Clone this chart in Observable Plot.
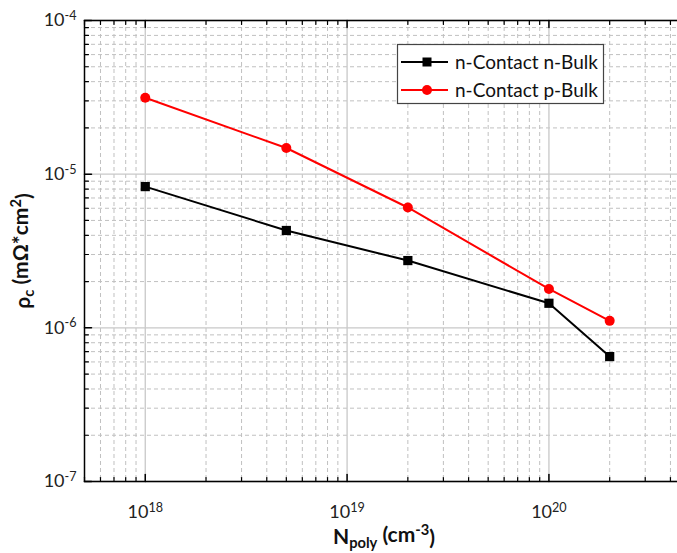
<!DOCTYPE html>
<html>
<head>
<meta charset="utf-8">
<script src="https://cdn.jsdelivr.net/npm/d3@7"></script>
<script src="https://cdn.jsdelivr.net/npm/@observablehq/plot@0.6"></script>
<style>
  html, body { margin: 0; padding: 0; background: #fff; }
  #chart svg { display: block; }
</style>
</head>
<body>
<div id="chart"></div>
<script>
// ---- data ----
const nPoly = [1e18, 5e18, 2e19, 1e20, 2e20];
const nContactNBulk = [8.3e-6, 4.3e-6, 2.74e-6, 1.445e-6, 6.5e-7];
const nContactPBulk = [3.14e-5, 1.48e-5, 6.07e-6, 1.79e-6, 1.11e-6];
const seriesNames = ["n-Contact n-Bulk", "n-Contact p-Bulk"];
const seriesColors = ["#000000", "#ff0000"];
const xMajor = [1e18, 1e19, 1e20];
const yMajor = [1e-7, 1e-6, 1e-5, 1e-4];
const xTickLabels = ["10^18", "10^19", "10^20"];
const yTickLabels = ["10^-7", "10^-6", "10^-5", "10^-4"];
const xDomain = [5e17, 5e20];
const yDomain = [1e-7, 1e-4];

const rows = [];
nPoly.forEach((x, i) => {
  rows.push({x, y: nContactNBulk[i], s: seriesNames[0]});
  rows.push({x, y: nContactPBulk[i], s: seriesNames[1]});
});
const isMajor = v => Math.abs(Math.log10(v) - Math.round(Math.log10(v))) < 1e-9;
const xMinor = d3.scaleLog().domain(xDomain).ticks().filter(v => !isMajor(v));
const yMinor = d3.scaleLog().domain(yDomain).ticks().filter(v => !isMajor(v));

const W = 677, H = 553;
const FONT = "Lato, 'Open Sans', sans-serif";
const tickShape = {draw(ctx, l) { ctx.moveTo(0, 0); ctx.lineTo(0, -l); }};
const xLab = new Map(xMajor.map((v, i) => [v, xTickLabels[i]]));
const yLab = new Map(yMajor.map((v, i) => [v, yTickLabels[i]]));

const chart = Plot.plot({
  width: W, height: H,
  marginLeft: 84, marginRight: -12.5, marginTop: 20, marginBottom: 72,
  style: {fontFamily: FONT, background: "white", overflow: "hidden"},
  x: {type: "log", domain: xDomain},
  y: {type: "log", domain: yDomain},
  marks: [
    Plot.ruleX(xMinor, {stroke: "#c0c0c0", strokeDasharray: "4,3"}),
    Plot.ruleY(yMinor, {stroke: "#c0c0c0", strokeDasharray: "4,3"}),
    Plot.ruleX(xMajor, {stroke: "#c8c8c8", strokeWidth: 1.3}),
    Plot.ruleY(yMajor, {stroke: "#c8c8c8", strokeWidth: 1.3}),
    // inward ticks: bottom & top
    Plot.vector(xMajor, {x: d => d, frameAnchor: "bottom", length: 7, rotate: 0, anchor: "start", shape: tickShape, stroke: "black", strokeWidth: 1.5}),
    Plot.vector(xMinor, {x: d => d, frameAnchor: "bottom", length: 4, rotate: 0, anchor: "start", shape: tickShape, stroke: "black", strokeWidth: 1.2}),
    Plot.vector(xMajor, {x: d => d, frameAnchor: "top", length: 7, rotate: 180, anchor: "start", shape: tickShape, stroke: "black", strokeWidth: 1.5}),
    Plot.vector(xMinor, {x: d => d, frameAnchor: "top", length: 4, rotate: 180, anchor: "start", shape: tickShape, stroke: "black", strokeWidth: 1.2}),
    // inward ticks: left
    Plot.vector(yMajor, {y: d => d, frameAnchor: "left", length: 7, rotate: 90, anchor: "start", shape: tickShape, stroke: "black", strokeWidth: 1.5}),
    Plot.vector(yMinor, {y: d => d, frameAnchor: "left", length: 4, rotate: 90, anchor: "start", shape: tickShape, stroke: "black", strokeWidth: 1.2}),
    Plot.frame({stroke: "black", strokeWidth: 1.5}),
    Plot.axisX(xMajor, {tickSize: 0, tickPadding: 24, tickFormat: d => xLab.get(d), fill: "#222", label: null}),
    Plot.axisY(yMajor, {tickSize: 0, tickPadding: 8, tickFormat: d => yLab.get(d), fill: "#222", label: null}),
    Plot.line(rows, {x: "x", y: "y", stroke: "s", strokeWidth: 2}),
    Plot.dot(rows.filter(d => d.s === seriesNames[0]), {x: "x", y: "y", fill: seriesColors[0], symbol: "square", r: 5.2}),
    Plot.dot(rows.filter(d => d.s === seriesNames[1]), {x: "x", y: "y", fill: seriesColors[1], symbol: "circle", r: 5})
  ],
  color: {domain: seriesNames, range: seriesColors}
});
document.getElementById("chart").appendChild(chart);

const svg = d3.select(chart);
// tick label size
svg.selectAll("g[aria-label='x-axis tick label'], g[aria-label='y-axis tick label']")
  .attr("font-size", 18).attr("font-family", FONT);
// superscripts in tick labels
svg.selectAll("text").each(function() {
  const t = this.textContent;
  if (t && t.includes("^")) {
    const [base, sup] = t.split("^");
    const el = d3.select(this);
    el.text(null);
    el.append("tspan").text(base);
    el.append("tspan").attr("dy", "-0.5em").attr("font-size", "0.7em").text(sup);
  }
});

// axis titles
const xt = svg.append("text")
  .attr("x", 384).attr("y", 544)
  .attr("text-anchor", "middle")
  .attr("font-family", FONT).attr("font-weight", "bold").attr("font-size", 21).attr("fill", "#111");
xt.append("tspan").text("N");
xt.append("tspan").attr("dy", "0.3em").attr("font-size", "0.7em").text("poly");
xt.append("tspan").attr("dy", "-0.3em").text(" (cm");
xt.append("tspan").attr("dy", "-0.5em").attr("font-size", "0.7em").text("-3");
xt.append("tspan").attr("dy", "0.5em").text(")");

const yt = svg.append("text")
  .attr("transform", "translate(30,251) rotate(-90)")
  .attr("text-anchor", "middle")
  .attr("font-family", FONT).attr("font-weight", "bold").attr("font-size", 21).attr("fill", "#111");
yt.append("tspan").text("ρ");
yt.append("tspan").attr("dy", "0.3em").attr("font-size", "0.7em").text("c");
yt.append("tspan").attr("dy", "-0.3em").text(" (mΩ*cm");
yt.append("tspan").attr("dy", "-0.5em").attr("font-size", "0.7em").text("2");
yt.append("tspan").attr("dy", "0.5em").text(")");

// legend
const lg = svg.append("g").attr("font-family", FONT).attr("text-anchor", "start");
lg.append("rect").attr("x", 397.5).attr("y", 44.5).attr("width", 206).attr("height", 59)
  .attr("fill", "white").attr("stroke", "#444").attr("stroke-width", 1.2);
seriesNames.forEach((name, i) => {
  const cy = 62 + i * 28;
  lg.append("line").attr("x1", 401).attr("x2", 448).attr("y1", cy).attr("y2", cy)
    .attr("stroke", seriesColors[i]).attr("stroke-width", 2);
  if (i === 0) {
    lg.append("rect").attr("x", 422.5).attr("y", cy - 4.5).attr("width", 9).attr("height", 9).attr("fill", seriesColors[i]);
  } else {
    lg.append("circle").attr("cx", 427).attr("cy", cy).attr("r", 5).attr("fill", seriesColors[i]);
  }
  lg.append("text").attr("x", 455).attr("y", cy).attr("dy", "0.35em")
    .attr("font-size", 19).attr("fill", "#111").text(name);
});
</script>
</body>
</html>
